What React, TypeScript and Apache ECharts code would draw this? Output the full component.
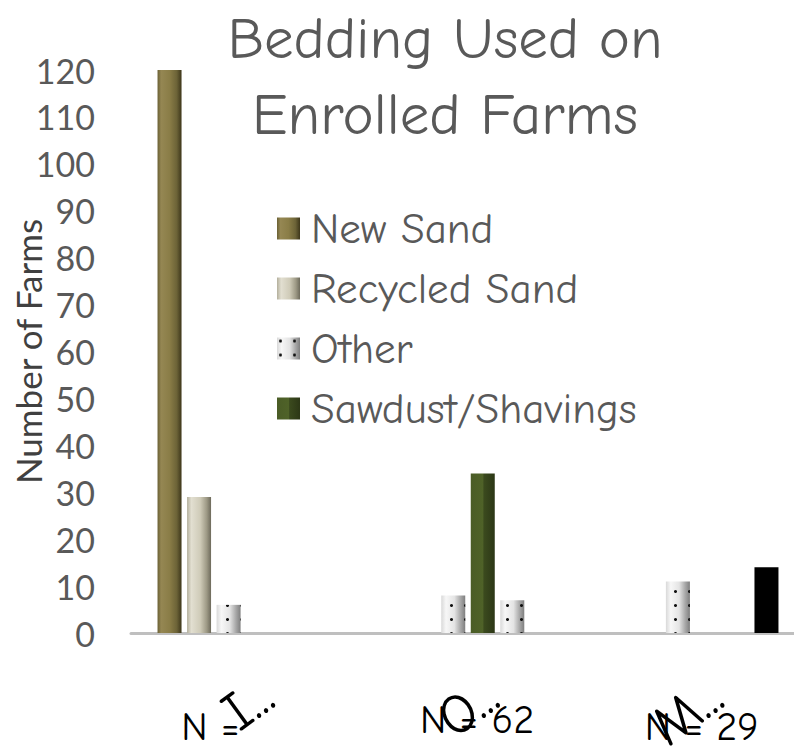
import React, { useEffect, useRef } from "react";
import * as echarts from "echarts";

const regionLabels = ["I...", "O...", "M..."];
const sampleLabels = ["N =", "N = 62", "N = 29"];
const yTicks = [0, 10, 20, 30, 40, 50, 60, 70, 80, 90, 100, 110, 120];

const newSand = [120, null, null];
const recycledSand = [29, null, null];
const otherBedding = [6, 8, 11];
const sawdustShavings = [null, 34, null];
const otherBedding2 = [null, 7, null];
const otherBedding3 = [null, null, 14];

const legendNames = ["New Sand", "Recycled Sand", "Other", "Sawdust/Shavings"];

const TITLE_FONT = "'Comic Sans MS', 'Comic Neue', 'DejaVu Sans', sans-serif";
const AXIS_FONT = "Lato, 'Open Sans', sans-serif";

function grad(stops: [number, string][]) {
  return new echarts.graphic.LinearGradient(
    0,
    0,
    1,
    0,
    stops.map(([offset, color]) => ({ offset, color }))
  );
}

const dotDecal = {
  symbol: "circle",
  symbolSize: 0.45,
  color: "#111111",
  backgroundColor: "transparent",
  dashArrayX: 7,
  dashArrayY: 7,
  rotation: 0,
};

export default function App() {
  const ref = useRef<HTMLDivElement>(null);
  useEffect(() => {
    if (!ref.current) return;
    const chart = echarts.init(ref.current, undefined, { renderer: "svg" });
    const barBase = {
      type: "bar" as const,
      barWidth: 24,
      barGap: "23%",
      xAxisIndex: 0,
      yAxisIndex: 0,
    };
    const otherStyle = {
      color: grad([
        [0, "#d9d9d9"],
        [0.2, "#f7f7f7"],
        [0.55, "#e4e4e4"],
        [0.8, "#a9a9a9"],
        [1, "#7f7f7f"],
      ]),
      decal: dotDecal,
    };
    chart.setOption({
      animation: false,
      backgroundColor: "#ffffff",
      title: {
        text: "Bedding Used on\nEnrolled Farms",
        left: 440,
        textAlign: "center",
        top: -4,
        textStyle: {
          fontFamily: TITLE_FONT,
          fontSize: 59,
          fontWeight: "normal",
          color: "#595959",
          lineHeight: 76,
        },
      },
      legend: {
        data: legendNames,
        orient: "vertical",
        left: 272,
        top: 202,
        itemWidth: 23,
        itemHeight: 22,
        itemGap: 17,
        icon: "rect",
        textStyle: {
          fontFamily: TITLE_FONT,
          fontSize: 43,
          color: "#595959",
          padding: [0, 0, 0, 6],
        },
      },
      grid: [
        { left: 131, right: -11, top: 70, bottom: 114, containLabel: false, outerBoundsMode: "none" },
        { left: 155, right: -35, top: 70, bottom: 114, containLabel: false, outerBoundsMode: "none" },
      ],
      xAxis: [
        {
          type: "category",
          gridIndex: 0,
          data: sampleLabels,
          axisLine: { lineStyle: { color: "#bfbfbf", width: 3 } },
          axisTick: { show: false },
          axisLabel: {
            interval: 0,
            margin: 67,
            color: "#000",
            formatter: (v: string, i: number) =>
              i === 0 ? `{first|${v}}` : i === 1 ? `{up|${v}}` : `{low|${v}}`,
            rich: {
              first: {
                fontFamily: TITLE_FONT,
                fontSize: 40,
                lineHeight: 40,
                color: "#000",
                padding: [14, 84, 0, 18],
              },
              up: {
                fontFamily: TITLE_FONT,
                fontSize: 40,
                lineHeight: 40,
                color: "#000",
                padding: [0, 0, 0, 18],
              },
              low: {
                fontFamily: TITLE_FONT,
                fontSize: 40,
                lineHeight: 40,
                color: "#000",
                padding: [14, 0, 0, 18],
              },
            },
          },
        },
        {
          type: "category",
          gridIndex: 1,
          data: regionLabels,
          axisLine: { show: false },
          axisTick: { show: false },
          axisLabel: {
            interval: 0,
            rotate: 36,
            margin: 57,
            fontFamily: TITLE_FONT,
            fontSize: 56,
            color: "#000",
            overflow: "none",
          },
        },
      ],
      yAxis: [
        {
          type: "value",
          gridIndex: 0,
          min: 0,
          max: 120,
          interval: 10,
          name: "Number of Farms",
          nameLocation: "middle",
          nameGap: 86,
          nameMoveOverlap: false,
          nameTextStyle: {
            fontFamily: AXIS_FONT,
            fontSize: 35,
            color: "#404040",
          },
          axisLine: { show: false },
          axisTick: { show: false },
          splitLine: { show: false },
          axisLabel: {
            margin: 36,
            fontFamily: AXIS_FONT,
            fontSize: 34,
            color: "#595959",
            formatter: (v: number) => (yTicks.includes(v) ? String(v) : ""),
          },
        },
        {
          type: "value",
          gridIndex: 1,
          min: 0,
          max: 120,
          show: false,
        },
      ],
      series: [
        {
          ...barBase,
          name: "New Sand",
          data: newSand,
          itemStyle: {
            color: grad([
              [0, "#6a6034"],
              [0.15, "#958753"],
              [0.5, "#8a7d47"],
              [0.8, "#6c6337"],
              [1, "#3d361a"],
            ]),
          },
        },
        {
          ...barBase,
          name: "Recycled Sand",
          data: recycledSand,
          itemStyle: {
            color: grad([
              [0, "#b3af9c"],
              [0.18, "#e2dfd1"],
              [0.55, "#cfcbb8"],
              [0.82, "#9d9985"],
              [1, "#6d6a5b"],
            ]),
          },
        },
        {
          ...barBase,
          name: "Other",
          data: otherBedding,
          itemStyle: otherStyle,
        },
        {
          ...barBase,
          name: "Sawdust/Shavings",
          data: sawdustShavings,
          itemStyle: {
            color: grad([
              [0, "#4a5c26"],
              [0.5, "#4f6228"],
              [0.55, "#3b4a1e"],
              [1, "#2c3716"],
            ]),
          },
        },
        {
          ...barBase,
          name: "Other 2",
          data: otherBedding2,
          itemStyle: otherStyle,
        },
        {
          ...barBase,
          name: "Other 3",
          data: otherBedding3,
          itemStyle: { color: "#000000" },
        },
      ],
    });
    return () => chart.dispose();
  }, []);
  return (
    <div
      ref={ref}
      style={{ position: "fixed", left: 0, top: 0, width: 794, height: 747 }}
    />
  );
}
